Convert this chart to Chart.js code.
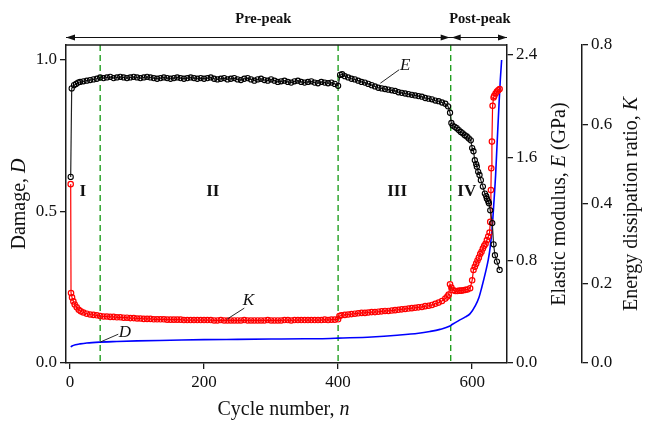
<!DOCTYPE html>
<html>
<head>
<meta charset="utf-8">
<script src="https://cdn.jsdelivr.net/npm/chart.js@4.4.1/dist/chart.umd.min.js"></script>
<style>
  html, body { margin: 0; padding: 0; background: #fff; }
  #wrap { width: 645px; height: 422px; }
</style>
</head>
<body>
<div id="wrap"><canvas id="chart" width="645" height="422"></canvas></div>
<script>
// axis ticks
const cycleTicks = [0, 200, 400, 600];
const damageTicks = [0, 0.5, 1.0];
const modulusTicks = [0, 0.8, 1.6, 2.4];
const ratioTicks = [0, 0.2, 0.4, 0.6, 0.8];

// stage boundaries and stage labels (cycle number)
const stageBounds = [45, 400, 568];
const stageNames = ['I', 'II', 'III', 'IV'];
const stageLabelCycles = [19, 213, 488, 592];

// elastic modulus E (GPa)
const eCycles = [1, 2.5, 6, 9, 12,
  15, 20, 25, 30, 35, 40, 45, 50, 55, 60, 65, 70, 75, 80, 85, 90, 95, 100,
  105, 110, 115, 120, 125, 130, 135, 140, 145, 150, 155, 160, 165, 170, 175, 180, 185, 190, 195, 200,
  205, 210, 215, 220, 225, 230, 235, 240, 245, 250, 255, 260, 265, 270, 275, 280, 285, 290, 295, 300,
  305, 310, 315, 320, 325, 330, 335, 340, 345, 350, 355, 360, 365, 370, 375, 380, 385, 390, 395, 400,
  403, 406, 410, 415, 420, 425, 430, 435, 440, 445, 450, 455, 460, 465, 470, 475, 480, 485, 490, 495, 500,
  505, 510, 515, 520, 525, 530, 535, 540, 545, 550, 555, 560, 564,
  567, 569, 571, 574, 577, 580, 583, 586, 589, 592, 595, 598,
  600, 602, 604, 606, 607, 609, 611, 613, 616, 619, 621, 622, 624, 625, 627, 630, 632, 634, 637, 641];
const eModulus = [1.45, 2.14, 2.165, 2.175, 2.185,
  2.19, 2.195, 2.20, 2.205, 2.21, 2.215, 2.225, 2.22, 2.225, 2.23, 2.22, 2.225, 2.23, 2.225, 2.22, 2.225, 2.23, 2.225,
  2.22, 2.225, 2.23, 2.225, 2.22, 2.215, 2.22, 2.225, 2.22, 2.215, 2.22, 2.225, 2.22, 2.215, 2.22, 2.225, 2.22, 2.215, 2.22, 2.215,
  2.22, 2.225, 2.215, 2.21, 2.215, 2.22, 2.21, 2.215, 2.22, 2.21, 2.205, 2.215, 2.22, 2.21, 2.20, 2.21, 2.215, 2.205, 2.20, 2.21,
  2.20, 2.19, 2.195, 2.20, 2.19, 2.185, 2.195, 2.20, 2.19, 2.185, 2.19, 2.195, 2.185, 2.18, 2.19, 2.185, 2.18, 2.185, 2.175, 2.16,
  2.245, 2.25, 2.235, 2.225, 2.215, 2.21, 2.20, 2.19, 2.185, 2.175, 2.165, 2.155, 2.145, 2.14, 2.135, 2.13, 2.125, 2.12, 2.11, 2.105, 2.10,
  2.095, 2.09, 2.085, 2.08, 2.075, 2.065, 2.06, 2.055, 2.045, 2.04, 2.03, 2.02, 2.0,
  1.95, 1.87, 1.85, 1.84, 1.83, 1.815, 1.80, 1.79, 1.775, 1.765, 1.75, 1.735,
  1.675, 1.65, 1.58, 1.55, 1.53, 1.49, 1.465, 1.425, 1.375, 1.32, 1.30, 1.28, 1.26, 1.245, 1.19, 1.09, 0.925, 0.84, 0.79, 0.725];

// energy dissipation ratio K
const kCycles = [1, 1.5, 3, 5, 7, 10, 13, 16, 20, 25, 30, 35, 40, 45,
  50, 55, 60, 65, 70, 75, 80, 85, 90, 95,
  100, 105, 110, 115, 120, 125, 130, 135, 140, 145,
  150, 155, 160, 165, 170, 175, 180, 185, 190, 195,
  200, 205, 210, 215, 220, 225, 230, 235, 240, 245,
  250, 255, 260, 265, 270, 275, 280, 285, 290, 295,
  300, 305, 310, 315, 320, 325, 330, 335, 340, 345,
  350, 355, 360, 365, 370, 375, 380, 385, 390, 395, 400,
  402, 405, 410, 415, 420, 425, 430, 435, 440, 445, 450,
  455, 460, 465, 470, 475, 480, 485, 490, 495, 500,
  505, 510, 515, 520, 525, 530, 535, 540, 545, 550, 555, 560, 563, 565,
  567, 569, 572, 575, 578, 581, 584, 587, 590, 593, 597,
  600, 602, 604, 606, 608, 610, 612, 614, 616, 618, 620, 622, 624, 626, 627, 628, 628.5, 629.5, 630.5, 632, 633, 635, 637, 639, 641];
const kRatio = [0.45, 0.176, 0.165, 0.155, 0.147, 0.14, 0.134, 0.13, 0.127, 0.124, 0.122, 0.121, 0.12, 0.118,
  0.117, 0.117, 0.116, 0.116, 0.115, 0.115, 0.114, 0.114, 0.113, 0.113,
  0.112, 0.112, 0.111, 0.111, 0.111, 0.110, 0.110, 0.110, 0.110, 0.109,
  0.109, 0.109, 0.109, 0.109, 0.108, 0.108, 0.108, 0.108, 0.108, 0.108,
  0.108, 0.108, 0.108, 0.107, 0.107, 0.108, 0.107, 0.107, 0.107, 0.107,
  0.107, 0.107, 0.108, 0.107, 0.107, 0.107, 0.107, 0.107, 0.107, 0.108,
  0.107, 0.107, 0.107, 0.107, 0.108, 0.108, 0.107, 0.108, 0.108, 0.108,
  0.108, 0.108, 0.108, 0.108, 0.108, 0.108, 0.109, 0.108, 0.109, 0.109, 0.110,
  0.118, 0.120, 0.121, 0.122, 0.123, 0.124, 0.125, 0.126, 0.126, 0.127, 0.128,
  0.128, 0.129, 0.130, 0.131, 0.131, 0.132, 0.133, 0.134, 0.135, 0.136,
  0.137, 0.138, 0.139, 0.140, 0.141, 0.143, 0.144, 0.146, 0.149, 0.152, 0.156, 0.162, 0.167, 0.172,
  0.198, 0.19, 0.183, 0.181, 0.181, 0.182, 0.182, 0.183, 0.184, 0.185, 0.188,
  0.208, 0.234, 0.242, 0.25, 0.258, 0.265, 0.274, 0.28, 0.288, 0.295, 0.30, 0.309, 0.318, 0.328, 0.355, 0.435, 0.49, 0.557, 0.647, 0.668, 0.672, 0.678, 0.683, 0.686, 0.689];

// damage D
const dCycles = [1, 3, 8, 15, 25, 45, 70, 100, 150, 200,
  250, 300, 350, 388, 400, 450, 488, 520, 537, 552,
  566, 570, 580, 590, 597, 605, 610, 614.5, 620, 624,
  627, 630, 632, 635, 637, 640, 642, 644];
const dDamage = [0.053, 0.056, 0.060, 0.063, 0.066, 0.069, 0.071, 0.073, 0.075, 0.077,
  0.078, 0.079, 0.08, 0.081, 0.082, 0.086, 0.0915, 0.098, 0.104, 0.111,
  0.121, 0.127, 0.14, 0.152, 0.163, 0.19, 0.215, 0.251, 0.30, 0.34,
  0.383, 0.45, 0.515, 0.62, 0.714, 0.85, 0.934, 1.0];

const FONT = "'Liberation Serif', 'Times New Roman', serif";
const axisColor = '#1a1a1a';
Chart.defaults.font.family = FONT;
Chart.defaults.color = '#111';

function toPoints(xs, ys) {
  return xs.map((x, i) => ({ x: x, y: ys[i] }));
}

function axisBase(ticksList, fmt) {
  return {
    afterBuildTicks: s => { s.ticks = ticksList.map(v => ({ value: v })); },
    grid: { drawOnChartArea: false, drawTicks: true, tickLength: 6, color: axisColor, lineWidth: 1.3 },
    border: { display: true, color: axisColor, width: 1.5 },
    ticks: { font: { size: 17 }, color: '#111', padding: 3, callback: fmt }
  };
}

function drawMixed(ctx, parts, x, y, rotate) {
  ctx.save();
  ctx.translate(x, y);
  if (rotate) ctx.rotate(-Math.PI / 2);
  let total = 0;
  parts.forEach(p => { ctx.font = p.font; p.w = ctx.measureText(p.text).width; total += p.w; });
  let cx = -total / 2;
  ctx.textBaseline = 'middle';
  ctx.textAlign = 'left';
  ctx.fillStyle = '#111';
  parts.forEach(p => { ctx.font = p.font; ctx.fillText(p.text, cx, 0); cx += p.w; });
  ctx.restore();
}

function arrowHead(ctx, x, y, dir) {
  ctx.beginPath();
  ctx.moveTo(x, y);
  ctx.lineTo(x - dir * 9, y - 3);
  ctx.lineTo(x - dir * 9, y + 3);
  ctx.closePath();
  ctx.fill();
}

const overlay = {
  id: 'overlay',
  beforeDatasetsDraw(chart) {
    const { ctx, chartArea: a, scales } = chart;
    ctx.save();
    ctx.strokeStyle = '#22a022';
    ctx.lineWidth = 1.4;
    ctx.setLineDash([6, 4]);
    stageBounds.forEach(n => {
      const x = scales.x.getPixelForValue(n);
      ctx.beginPath();
      ctx.moveTo(x, a.top);
      ctx.lineTo(x, a.bottom);
      ctx.stroke();
    });
    ctx.restore();
  },
  afterDraw(chart) {
    const { ctx, chartArea: a, scales } = chart;
    const sx = scales.x;
    ctx.save();

    // top frame line
    ctx.strokeStyle = axisColor;
    ctx.lineWidth = 1.5;
    ctx.beginPath();
    ctx.moveTo(a.left, a.top);
    ctx.lineTo(a.right, a.top);
    ctx.stroke();

    // stage numerals
    ctx.fillStyle = '#111';
    ctx.font = 'bold 17px ' + FONT;
    ctx.textAlign = 'center';
    ctx.textBaseline = 'middle';
    stageNames.forEach((s, i) => {
      ctx.fillText(s, sx.getPixelForValue(stageLabelCycles[i]), scales.yD.getPixelForValue(0.564));
    });

    // curve labels with leader lines
    const labels = [
      { t: 'E', axis: 'yE', from: [463, 2.18], to: [491, 2.285], at: [500, 2.32] },
      { t: 'K', axis: 'yK', from: [234, 0.11], to: [260, 0.138], at: [266, 0.158] },
      { t: 'D', axis: 'yD', from: [45, 0.069], to: [72, 0.095], at: [82, 0.101] }
    ];
    ctx.lineWidth = 0.9;
    ctx.strokeStyle = '#111';
    ctx.font = 'italic 17px ' + FONT;
    labels.forEach(l => {
      const sy = scales[l.axis];
      ctx.beginPath();
      ctx.moveTo(sx.getPixelForValue(l.from[0]), sy.getPixelForValue(l.from[1]));
      ctx.lineTo(sx.getPixelForValue(l.to[0]), sy.getPixelForValue(l.to[1]));
      ctx.stroke();
      ctx.fillText(l.t, sx.getPixelForValue(l.at[0]), sy.getPixelForValue(l.at[1]));
    });

    // pre-peak / post-peak arrows
    const ay = a.top - 7.5;
    const xPeak = sx.getPixelForValue(stageBounds[2]);
    ctx.lineWidth = 1;
    ctx.beginPath();
    ctx.moveTo(a.left, ay);
    ctx.lineTo(a.right, ay);
    ctx.stroke();
    arrowHead(ctx, a.left, ay, -1);
    arrowHead(ctx, xPeak - 1, ay, 1);
    arrowHead(ctx, xPeak + 1, ay, -1);
    arrowHead(ctx, a.right, ay, 1);
    ctx.font = 'bold 14.5px ' + FONT;
    ctx.fillText('Pre-peak', (a.left + xPeak) / 2 + 5, a.top - 26);
    ctx.fillText('Post-peak', (xPeak + a.right) / 2 + 1, a.top - 26);

    // axis titles
    const nf = '20px ' + FONT, itf = 'italic 20px ' + FONT;
    const midY = (a.top + a.bottom) / 2;
    drawMixed(ctx, [{ text: 'Damage, ', font: nf }, { text: 'D', font: itf }], 20, midY, true);
    drawMixed(ctx, [{ text: 'Elastic modulus, ', font: nf }, { text: 'E', font: itf }, { text: ' (GPa)', font: nf }],
      scales.yE.left + 53, midY, true);
    drawMixed(ctx, [{ text: 'Energy dissipation ratio, ', font: nf }, { text: 'K', font: itf }],
      scales.yK.left + 50, midY, true);
    drawMixed(ctx, [{ text: 'Cycle number, ', font: nf }, { text: 'n', font: itf }],
      (a.left + a.right) / 2 - 3, a.bottom + 47, false);

    ctx.restore();
  }
};

const fmt1 = v => Number(v).toFixed(1);

new Chart(document.getElementById('chart'), {
  type: 'scatter',
  data: {
    datasets: [
      {
        label: 'E',
        data: toPoints(eCycles, eModulus),
        yAxisID: 'yE',
        showLine: true,
        borderColor: '#222',
        borderWidth: 1.2,
        pointRadius: 2.6,
        pointBorderWidth: 1.1,
        pointBorderColor: '#000',
        pointBackgroundColor: 'rgba(255,255,255,0)'
      },
      {
        label: 'K',
        data: toPoints(kCycles, kRatio),
        yAxisID: 'yK',
        showLine: true,
        borderColor: 'rgb(255,0,0)',
        borderWidth: 1.2,
        pointRadius: 2.7,
        pointBorderWidth: 1.2,
        pointBorderColor: 'rgb(255,0,0)',
        pointBackgroundColor: 'rgba(255,255,255,0)'
      },
      {
        label: 'D',
        data: toPoints(dCycles, dDamage),
        yAxisID: 'yD',
        showLine: true,
        borderColor: 'rgb(0,0,255)',
        borderWidth: 1.6,
        pointRadius: 0,
        cubicInterpolationMode: 'monotone'
      }
    ]
  },
  options: {
    responsive: false,
    animation: false,
    layout: { padding: { top: 45, left: 0, right: 0, bottom: 0 } },
    plugins: { legend: { display: false }, tooltip: { enabled: false } },
    scales: {
      x: Object.assign(axisBase(cycleTicks, v => v), {
        type: 'linear', min: -6, max: 652,
        afterFit: s => { s.height = 59; }
      }),
      yD: Object.assign(axisBase(damageTicks, fmt1), {
        position: 'left', min: 0, max: 1.0495,
        afterFit: s => { s.width = 66; }
      }),
      yE: Object.assign(axisBase(modulusTicks, fmt1), {
        position: 'right', weight: 0, min: 0, max: 2.478,
        afterFit: s => { s.width = 75; }
      }),
      yK: Object.assign(axisBase(ratioTicks, fmt1), {
        position: 'right', weight: 1, min: 0, max: 0.8,
        afterFit: s => { s.width = 63; }
      })
    }
  },
  plugins: [overlay]
});
</script>
</body>
</html>
